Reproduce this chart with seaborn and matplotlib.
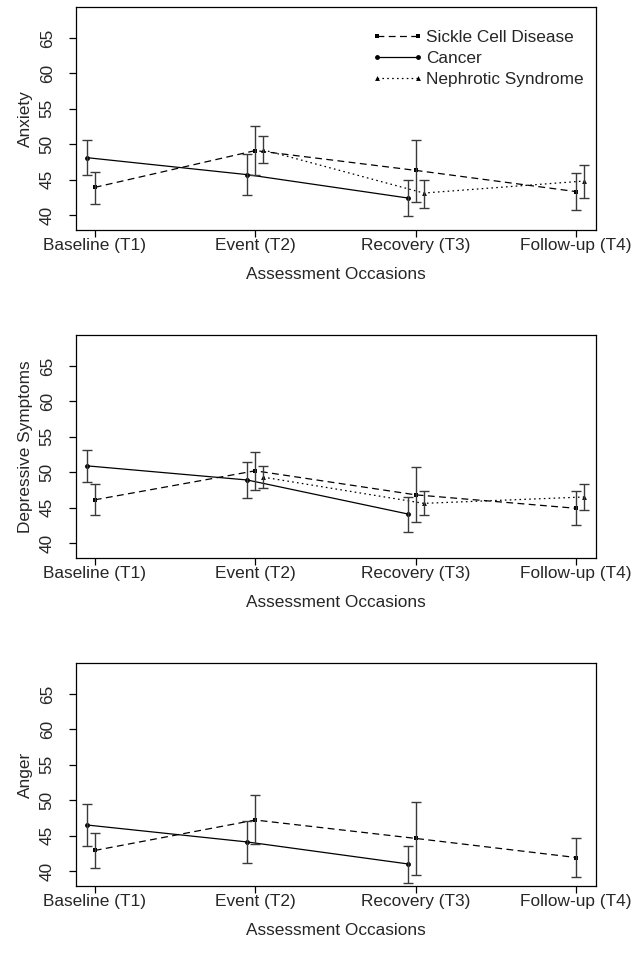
import numpy as np
import pandas as pd
import matplotlib
matplotlib.use("Agg")
import matplotlib.pyplot as plt
import seaborn as sns
from matplotlib.lines import Line2D

occasions = ["Baseline (T1)", "Event (T2)", "Recovery (T3)", "Follow-up (T4)"]
groups = ["Sickle Cell Disease", "Cancer", "Nephrotic Syndrome"]
outcomes = ["Anxiety", "Depressive Symptoms", "Anger"]
yticks = [40, 45, 50, 55, 60, 65]
nan = np.nan

# Anxiety
anx_scd = [43.9, 49.1, 46.3, 43.3]
anx_scd_lo = [41.6, 45.6, 41.9, 40.7]
anx_scd_hi = [46.1, 52.5, 50.6, 46.0]
anx_can = [48.1, 45.7, 42.4, nan]
anx_can_lo = [45.6, 42.8, 39.8, nan]
anx_can_hi = [50.6, 48.6, 45.0, nan]
anx_nep = [nan, 49.2, 43.1, 44.8]
anx_nep_lo = [nan, 47.4, 41.0, 42.4]
anx_nep_hi = [nan, 51.1, 45.0, 47.1]

# Depressive symptoms
dep_scd = [46.1, 50.2, 46.8, 44.9]
dep_scd_lo = [44.0, 47.5, 42.9, 42.5]
dep_scd_hi = [48.3, 52.8, 50.7, 47.3]
dep_can = [50.9, 48.9, 44.1, nan]
dep_can_lo = [48.6, 46.4, 41.6, nan]
dep_can_hi = [53.1, 51.5, 46.5, nan]
dep_nep = [nan, 49.3, 45.6, 46.5]
dep_nep_lo = [nan, 47.7, 43.9, 44.7]
dep_nep_hi = [nan, 50.9, 47.3, 48.3]

# Anger
ang_scd = [42.9, 47.2, 44.6, 41.9]
ang_scd_lo = [40.4, 43.8, 39.4, 39.1]
ang_scd_hi = [45.4, 50.7, 49.8, 44.7]
ang_can = [46.5, 44.1, 41.0, nan]
ang_can_lo = [43.6, 41.1, 38.3, nan]
ang_can_hi = [49.4, 47.0, 43.6, nan]
ang_nep = [nan, nan, nan, nan]
ang_nep_lo = [nan, nan, nan, nan]
ang_nep_hi = [nan, nan, nan, nan]

panels = [
    [(anx_scd, anx_scd_lo, anx_scd_hi), (anx_can, anx_can_lo, anx_can_hi), (anx_nep, anx_nep_lo, anx_nep_hi)],
    [(dep_scd, dep_scd_lo, dep_scd_hi), (dep_can, dep_can_lo, dep_can_hi), (dep_nep, dep_nep_lo, dep_nep_hi)],
    [(ang_scd, ang_scd_lo, ang_scd_hi), (ang_can, ang_can_lo, ang_can_hi), (ang_nep, ang_nep_lo, ang_nep_hi)],
]

offsets = {"Sickle Cell Disease": 0.0, "Cancer": -0.05, "Nephrotic Syndrome": 0.05}
dashes = {"Sickle Cell Disease": (5.5, 3.5), "Cancer": "", "Nephrotic Syndrome": (1.3, 2.6)}
markers = {"Sickle Cell Disease": "s", "Cancer": "o", "Nephrotic Syndrome": "^"}

sns.set_style("white")
plt.rcParams["font.family"] = ["Liberation Sans", "DejaVu Sans"]
FS = 12.4
MS = 3.5

fig = plt.figure(figsize=(6.44, 9.56), dpi=100)
W, H = 644, 956
bottoms = [230, 558, 886]
box_h = 223
left, right = 75.5, 595.5

for p, (name, data) in enumerate(zip(outcomes, panels)):
    bot = bottoms[p]
    ax = fig.add_axes([left / W, 1 - bot / H, (right - left) / W, box_h / H])
    rows = []
    for g, (m, lo, hi) in zip(groups, data):
        for i, occ in enumerate(occasions):
            if not np.isnan(m[i]):
                rows.append({"group": g, "x": i + 1 + offsets[g], "mean": m[i], "lo": lo[i], "hi": hi[i]})
    df = pd.DataFrame(rows)
    present = [g for g in groups if g in set(df["group"])]
    sns.lineplot(data=df, x="x", y="mean", hue="group", style="group",
                 hue_order=present, style_order=present,
                 palette={g: "black" for g in present},
                 dashes={g: dashes[g] for g in present},
                 markers={g: markers[g] for g in present},
                 markersize=MS, linewidth=0.9, markeredgewidth=0,
                 estimator=None, sort=False, legend=False, ax=ax)
    for g in present:
        d = df[df["group"] == g]
        ax.errorbar(d["x"], d["mean"], yerr=[d["mean"] - d["lo"], d["hi"] - d["mean"]],
                    fmt="none", ecolor="#3a3a3a", elinewidth=1.0, capsize=3.6, capthick=1.0)

    ax.set_xlim(0.88, 4.12)
    ax.set_ylim(37.88, 69.38)
    ax.set_xticks([1, 2, 3, 4])
    ax.set_xticklabels(occasions, fontsize=FS)
    ax.set_yticks(yticks)
    ax.set_yticklabels([str(v) for v in yticks], fontsize=FS, rotation=90, va="center")
    ax.tick_params(axis="both", direction="out", length=5, width=0.9, color="black",
                   bottom=True, left=True)
    ax.tick_params(axis="x", pad=0.8)
    ax.tick_params(axis="y", pad=10)
    ax.set_xlabel("Assessment Occasions", fontsize=FS, labelpad=10)
    ax.set_ylabel(name, fontsize=FS, labelpad=5)
    for s in ax.spines.values():
        s.set_visible(True)
        s.set_color("black")
        s.set_linewidth(0.9)

    if p == 0:
        handles = []
        for g in groups:
            h = Line2D([], [], color="black", linewidth=0.9,
                       linestyle="-" if not dashes[g] else "--",
                       marker=markers[g], markersize=MS, markeredgewidth=0)
            if dashes[g]:
                h.set_dashes(dashes[g])
            handles.append(h)
        ax.legend(handles, groups, loc="upper right", frameon=False, fontsize=FS,
                  numpoints=2, handlelength=3.0, handletextpad=0.15,
                  labelspacing=0.35, borderaxespad=0.3,
                  bbox_to_anchor=(1.0, 1.0 - 11 / box_h))

fig.savefig("out.png", dpi=100)
